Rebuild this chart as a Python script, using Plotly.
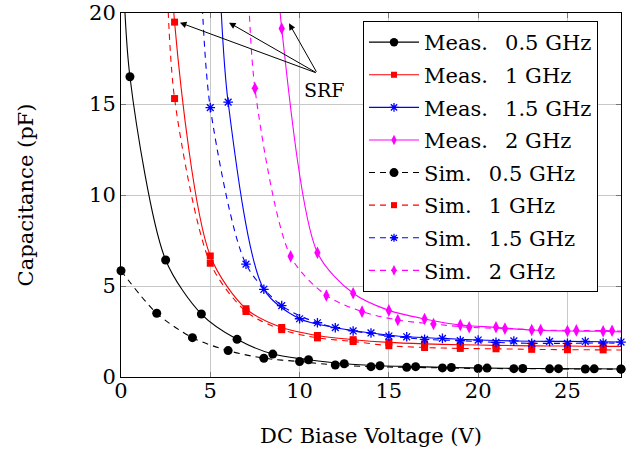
import plotly.graph_objects as go

# ---- data ----
meas05_x = [0, 0.5, 2.5, 4.5, 6.5, 8.5, 10.5, 12.5, 14.5, 16.5, 18.5, 20.5, 22.5, 24.5, 26.5, 28]
meas05_y = [26, 16.5, 6.43, 3.46, 2.07, 1.26, 0.95, 0.73, 0.62, 0.57, 0.52, 0.49, 0.47, 0.46, 0.45, 0.44]
meas05_mark = [0] + [1] * 15

meas1_x = [2.5, 3, 5, 7, 9, 11, 13, 15, 17, 19, 21, 23, 25, 27, 28]
meas1_y = [40, 19.5, 6.65, 3.75, 2.72, 2.28, 2.05, 1.9, 1.82, 1.77, 1.74, 1.71, 1.7, 1.68, 1.68]
meas1_mark = [0] + [1] * 13 + [0]

meas15_x = [5.5, 6, 8, 10, 12, 14, 16, 18, 20, 22, 24, 26, 28]
meas15_y = [22.5, 15.1, 4.82, 3.2, 2.71, 2.42, 2.21, 2.12, 2.03, 1.98, 1.96, 1.95, 1.92]
meas15_mark = [0] + [1] * 12

meas2_x = [8.5, 9, 11, 13, 15, 17, 19, 21, 23, 25, 27, 28]
meas2_y = [27, 19.15, 6.83, 4.6, 3.66, 3.19, 2.86, 2.73, 2.58, 2.53, 2.51, 2.47]
meas2_mark = [0] + [1] * 10 + [0]

sim05_x = [0, 2, 4, 6, 8, 10, 12, 14, 16, 18, 20, 22, 24, 26, 28]
sim05_y = [5.84, 3.5, 2.16, 1.45, 1.03, 0.85, 0.66, 0.57, 0.53, 0.5, 0.47, 0.46, 0.45, 0.44, 0.43]
sim05_mark = [1] * 15

sim1_x = [2.5, 3, 5, 7, 9, 11, 13, 15, 17, 19, 21, 23, 25, 27, 28]
sim1_y = [24.3, 15.3, 6.25, 3.6, 2.6, 2.15, 1.95, 1.72, 1.62, 1.57, 1.55, 1.52, 1.5, 1.49, 1.48]
sim1_mark = [0] + [1] * 13 + [0]

sim15_x = [4.5, 5, 7, 9, 11, 13, 15, 17, 19, 21, 23, 25, 27, 28]
sim15_y = [21.5, 14.8, 6.2, 3.92, 2.98, 2.53, 2.25, 2.07, 2.0, 1.9, 1.85, 1.85, 1.87, 1.85]
sim15_mark = [0] + [1] * 12 + [0]

sim2_x = [7, 7.5, 9.5, 11.5, 13.5, 15.5, 17.5, 19.5, 21.5, 23.5, 25.5, 27.5, 28]
sim2_y = [25.9, 15.86, 6.63, 4.48, 3.59, 3.13, 2.91, 2.73, 2.66, 2.58, 2.56, 2.54, 2.52]
sim2_mark = [0] + [1] * 11 + [0]

x_ticks = [0, 5, 10, 15, 20, 25]
y_ticks = [0, 5, 10, 15, 20]

srf_tail = (10.99, 16.69)
srf_tips_x = [3.30, 6.05, 9.41]
srf_tips_y = [19.47, 19.47, 19.43]
srf_label = (11.42, 15.77)

FONT = "DejaVu Serif"
FS = 21

series = [
    ("Meas.\u2002 0.5 GHz", meas05_x, meas05_y, meas05_mark, "#000000", "solid", "circle", 9),
    ("Meas.\u2002 1 GHz", meas1_x, meas1_y, meas1_mark, "#ff0000", "solid", "square", 7),
    ("Meas.\u2002 1.5 GHz", meas15_x, meas15_y, meas15_mark, "#0000ff", "solid", "asterisk-open", 8),
    ("Meas.\u2002 2 GHz", meas2_x, meas2_y, meas2_mark, "#ff00ff", "solid", "diamond-tall", 9),
    ("Sim.\u2002 0.5 GHz", sim05_x, sim05_y, sim05_mark, "#000000", "6px,5px", "circle", 9),
    ("Sim.\u2002 1 GHz", sim1_x, sim1_y, sim1_mark, "#ff0000", "6px,5px", "square", 7),
    ("Sim.\u2002 1.5 GHz", sim15_x, sim15_y, sim15_mark, "#0000ff", "6px,5px", "asterisk-open", 8),
    ("Sim.\u2002 2 GHz", sim2_x, sim2_y, sim2_mark, "#ff00ff", "6px,5px", "diamond-tall", 9),
]

fig = go.Figure()
for name, xs, ys, mk, col, dash, sym, sz in series:
    fig.add_trace(go.Scatter(
        x=xs, y=ys, name=name, mode="lines+markers", legendgroup=name,
        line=dict(color=col, width=1.1, dash=dash, shape="spline", smoothing=0.8),
        marker=dict(symbol=sym, color=col, size=[sz * m for m in mk], opacity=1,
                    line=dict(color=col, width=1.3 if "asterisk" in sym else 0)),
        opacity=1,
        cliponaxis=False,
    ))

for tx, ty in zip(srf_tips_x, srf_tips_y):
    fig.add_annotation(x=tx, y=ty, ax=srf_tail[0], ay=srf_tail[1], axref="x", ayref="y",
                       xref="x", yref="y", text="", showarrow=True,
                       arrowhead=2, arrowsize=1.3, arrowwidth=1, arrowcolor="black", standoff=0)
fig.add_annotation(x=srf_label[0], y=srf_label[1], xref="x", yref="y", text="SRF",
                   showarrow=False, font=dict(family=FONT, size=19, color="black"))

axis_common = dict(showgrid=True, gridcolor="#c8c8c8", gridwidth=1, showline=True,
                   linecolor="black", linewidth=1, mirror="ticks", ticks="inside",
                   ticklen=5, tickcolor="#777", zeroline=False, automargin=False,
                   ticklabeloverflow="allow",
                   tickfont=dict(family=FONT, size=FS, color="black"))

fig.update_xaxes(range=[0, 28], tickvals=x_ticks, ticktext=[str(v) for v in x_ticks],
                 ticklabelstandoff=-5,
                 title=dict(text="DC Biase Voltage (V)", font=dict(family=FONT, size=FS, color="black"), standoff=26),
                 **axis_common)
fig.update_yaxes(range=[0, 20], tickvals=y_ticks, ticktext=[str(v) for v in y_ticks],
                 title=dict(text="Capacitance (pF)", font=dict(family=FONT, size=FS, color="black"), standoff=49),
                 **axis_common)

fig.update_layout(
    width=641, height=454,
    margin=dict(l=121, r=20, t=13, b=77, autoexpand=False),
    paper_bgcolor="white", plot_bgcolor="white",
    font=dict(family=FONT, size=FS, color="black"),
    legend=dict(x=0.484, y=0.978, xanchor="left", yanchor="top",
                bgcolor="white", bordercolor="black", borderwidth=1,
                itemwidth=50, font=dict(family=FONT, size=FS, color="black"),
                tracegroupgap=2.3),
    showlegend=True,
)

fig.write_html("out.html", config={"displayModeBar": False},
               post_script="document.body.style.margin='0';")
